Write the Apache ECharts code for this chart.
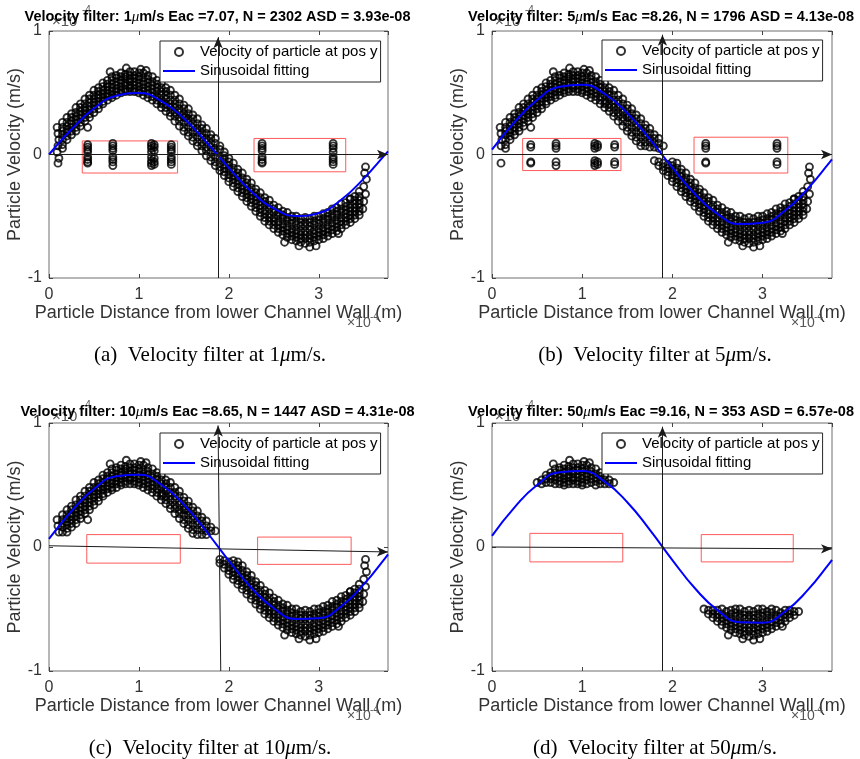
<!DOCTYPE html>
<html>
<head>
<meta charset="utf-8">
<script src="https://cdn.jsdelivr.net/npm/echarts@6/dist/echarts.min.js"></script>
<style>
  html, body { margin: 0; padding: 0; background: #fff; }
  #main { width: 860px; height: 759px; }
</style>
</head>
<body>
<div id="main"></div>
<script>
var bandX = [0.15,0.20,0.25,0.30,0.35,0.40,0.45,0.50,0.55,0.60,0.65,0.70,0.75,0.80,0.85,0.90,0.95,1.00,
  1.05,1.10,1.15,1.20,1.25,1.30,1.35,1.40,1.45,1.50,1.55,1.60,1.65,1.70,1.75,1.80,1.85,1.90,1.95,2.00,
  2.05,2.10,2.15,2.20,2.25,2.30,2.35,2.40,2.45,2.50,2.55,2.60,2.65,2.70,2.75,2.80,2.85,2.90,2.95,3.00,
  3.05,3.10,3.15,3.20,3.25,3.30,3.35,3.40,3.45];
var bandTop = [0.26,0.30,0.33,0.38,0.41,0.45,0.48,0.52,0.54,0.58,0.60,0.63,0.64,0.66,0.65,0.67,0.67,0.66,
  0.66,0.64,0.63,0.60,0.58,0.54,0.52,0.48,0.45,0.40,0.37,0.32,0.29,0.24,0.21,0.16,0.13,0.07,0.02,-0.03,
  -0.07,-0.12,-0.15,-0.20,-0.23,-0.28,-0.31,-0.35,-0.37,-0.41,-0.43,-0.46,-0.47,-0.50,-0.50,-0.52,-0.51,-0.52,-0.50,-0.50,
  -0.48,-0.47,-0.44,-0.43,-0.40,-0.39,-0.36,-0.34,-0.30];
var bandMid1 = [0.22,0.26,0.30,0.34,0.38,0.41,0.45,0.48,0.51,0.55,0.57,0.60,0.62,0.63,0.63,0.64,0.64,0.63,
  0.62,0.61,0.59,0.57,0.54,0.51,0.48,0.44,0.41,0.37,0.33,0.29,0.25,0.21,0.17,0.13,0.09,0.04,-0.01,-0.06,
  -0.11,-0.15,-0.19,-0.23,-0.27,-0.31,-0.35,-0.38,-0.41,-0.44,-0.47,-0.49,-0.51,-0.53,-0.54,-0.55,-0.55,-0.55,-0.54,-0.53,
  -0.52,-0.50,-0.48,-0.46,-0.44,-0.42,-0.40,-0.37,-0.34];
var bandUpper = [0.19,0.23,0.27,0.31,0.35,0.38,0.42,0.45,0.48,0.52,0.55,0.57,0.59,0.60,0.61,0.61,0.62,0.61,
  0.59,0.58,0.56,0.54,0.51,0.48,0.44,0.41,0.37,0.33,0.29,0.25,0.21,0.17,0.13,0.09,0.05,0.00,-0.04,-0.09,
  -0.14,-0.18,-0.22,-0.26,-0.30,-0.34,-0.38,-0.41,-0.44,-0.47,-0.50,-0.52,-0.54,-0.56,-0.57,-0.58,-0.58,-0.58,-0.57,-0.56,
  -0.55,-0.53,-0.51,-0.49,-0.47,-0.45,-0.43,-0.40,-0.37];
var bandMid2 = [0.16,0.20,0.25,0.28,0.32,0.36,0.39,0.42,0.46,0.49,0.52,0.54,0.56,0.58,0.58,0.59,0.59,0.58,
  0.57,0.55,0.53,0.51,0.48,0.45,0.41,0.38,0.34,0.30,0.26,0.22,0.18,0.14,0.10,0.06,0.02,-0.03,-0.08,-0.12,
  -0.17,-0.21,-0.25,-0.29,-0.33,-0.37,-0.41,-0.45,-0.48,-0.51,-0.54,-0.56,-0.58,-0.60,-0.61,-0.62,-0.62,-0.61,-0.61,-0.60,
  -0.59,-0.57,-0.55,-0.53,-0.51,-0.48,-0.46,-0.43,-0.40];
var bandLower = [0.12,0.18,0.22,0.25,0.29,0.33,0.36,0.40,0.43,0.46,0.49,0.51,0.53,0.55,0.56,0.56,0.56,0.55,
  0.54,0.52,0.50,0.47,0.44,0.41,0.38,0.34,0.30,0.26,0.22,0.18,0.14,0.10,0.06,0.02,-0.02,-0.07,-0.11,-0.16,
  -0.20,-0.24,-0.28,-0.32,-0.36,-0.40,-0.44,-0.48,-0.51,-0.54,-0.57,-0.59,-0.61,-0.63,-0.64,-0.65,-0.65,-0.65,-0.64,-0.63,
  -0.62,-0.60,-0.58,-0.56,-0.54,-0.51,-0.49,-0.46,-0.43];
var bandMid3 = [0.08,0.15,0.19,0.22,0.26,0.30,0.33,0.37,0.40,0.43,0.47,0.48,0.51,0.52,0.53,0.54,0.53,0.52,
  0.51,0.49,0.47,0.44,0.41,0.38,0.34,0.31,0.27,0.22,0.18,0.14,0.10,0.07,0.03,-0.02,-0.06,-0.10,-0.14,-0.19,
  -0.23,-0.27,-0.31,-0.35,-0.39,-0.43,-0.47,-0.51,-0.54,-0.57,-0.60,-0.62,-0.64,-0.66,-0.67,-0.68,-0.68,-0.68,-0.67,-0.66,
  -0.65,-0.63,-0.61,-0.59,-0.57,-0.54,-0.52,-0.49,-0.46];
var bandBottom = [0.05,0.12,0.16,0.19,0.23,0.27,0.30,0.34,0.37,0.41,0.44,0.46,0.48,0.50,0.51,0.51,0.51,0.50,
  0.48,0.46,0.44,0.41,0.38,0.35,0.31,0.27,0.23,0.19,0.15,0.11,0.07,0.03,-0.01,-0.05,-0.09,-0.13,-0.17,-0.22,
  -0.26,-0.30,-0.34,-0.38,-0.42,-0.46,-0.50,-0.54,-0.57,-0.60,-0.63,-0.65,-0.67,-0.69,-0.70,-0.71,-0.72,-0.71,-0.70,-0.69,
  -0.68,-0.66,-0.64,-0.62,-0.60,-0.57,-0.55,-0.52,-0.49];
// particles close to the walls
var wallPoints = [[0.09,0.22],[0.10,0.17],[0.11,0.12],[0.10,0.07],[0.09,0.02],[0.11,-0.03],[0.10,-0.07],
  [3.52,-0.10],[3.51,-0.15],[3.53,-0.20],[3.50,-0.26],[3.52,-0.32],[3.50,-0.38],[3.49,-0.44]];
// a few particles just outside the main band
var strayPoints = [[0.43,0.22],[0.68,0.67],[0.86,0.70],[1.02,0.69],[1.08,0.68],[1.26,0.42],[1.52,0.30],
  [2.62,-0.71],[2.78,-0.74],[2.90,-0.75],[2.97,-0.74],[3.22,-0.64],[3.35,-0.36]];
// slow particles inside the red boxes
var boxPoints = [
  [0.43,0.08],[0.43,0.06],[0.43,0.04],[0.43,0.02],[0.43,-0.02],[0.43,-0.04],[0.43,-0.06],[0.43,-0.07],
  [0.71,0.09],[0.71,0.07],[0.71,0.05],[0.71,0.03],[0.71,-0.02],[0.71,-0.04],[0.71,-0.06],[0.71,-0.09],
  [1.14,0.09],[1.14,0.07],[1.14,0.05],[1.14,0.02],[1.14,-0.02],[1.14,-0.05],[1.14,-0.07],[1.14,-0.09],
  [1.17,0.08],[1.17,0.06],[1.17,0.03],[1.17,-0.03],[1.17,-0.06],[1.17,-0.08],
  [1.36,0.08],[1.36,0.06],[1.36,0.04],[1.36,0.02],[1.36,-0.02],[1.36,-0.04],[1.36,-0.06],[1.36,-0.08],
  [2.37,0.09],[2.37,0.07],[2.37,0.05],[2.37,0.03],[2.37,-0.02],[2.37,-0.04],[2.37,-0.06],[2.37,-0.07],
  [3.16,0.09],[3.16,0.07],[3.16,0.05],[3.16,0.02],[3.16,-0.02],[3.16,-0.04],[3.16,-0.06],[3.16,-0.08]
];

// sinusoidal fits, one per panel
var fitX = [0,0.25,0.5,0.75,1.0,1.25,1.5,1.75,2.0,2.25,2.5,2.75,3.0,3.25,3.5,3.75,3.77];
var fitA = [0,0.204,0.372,0.476,0.497,0.432,0.292,0.100,-0.108,-0.299,-0.436,-0.498,-0.474,-0.366,-0.195,0.009,0.025];
var fitB = [0.040,0.262,0.441,0.548,0.565,0.490,0.335,0.124,-0.107,-0.320,-0.481,-0.563,-0.553,-0.453,-0.277,-0.057,-0.039];
var fitC = [0.065,0.289,0.468,0.571,0.583,0.502,0.342,0.125,-0.111,-0.329,-0.494,-0.581,-0.575,-0.478,-0.302,-0.079,-0.060];
var fitD = [0.090,0.320,0.500,0.603,0.612,0.527,0.361,0.138,-0.105,-0.333,-0.509,-0.606,-0.610,-0.520,-0.348,-0.124,-0.104];

// panel metadata
var panelTags = ['a', 'b', 'c', 'd'];
var filterUm = ['1', '5', '10', '50'];
var filterLevels = [0.01, 0.05, 0.10, 0.50];
var eacValues = ['7.07', '8.26', '8.65', '9.16'];
var nCounts = ['2302', '1796', '1447', '353'];
var asdValues = ['3.93e-08', '4.13e-08', '4.31e-08', '6.57e-08'];
var xTicks = ['0', '1', '2', '3'];
var yTicks = ['-1', '0', '1'];

var dotName = 'Velocity of particle at pos y';
var fitName = 'Sinusoidal fitting';
var xName = 'Particle Distance from lower Channel Wall (m)';
var yName = 'Particle Velocity (m/s)';

var sans = 'Liberation Sans, Arial, sans-serif';
var serif = 'Liberation Serif, Times New Roman, serif';
var xMax = 3.77;

var grids = [
  {left: 49, top: 31, width: 339, height: 247},
  {left: 492, top: 31, width: 340, height: 247},
  {left: 49, top: 423, width: 339, height: 248},
  {left: 492, top: 423, width: 340, height: 248}
];
var legendPos = [[160, 41], [602, 40], [160, 433], [602, 433]];
// red boxes [x0, y0, x1, y1] and arrow axes per panel
var boxes = [
  [[0.37, 0.11, 1.43, -0.15], [2.28, 0.13, 3.30, -0.14]],
  [[0.34, 0.13, 1.43, -0.13], [2.24, 0.14, 3.28, -0.15]],
  [[0.42, 0.10, 1.46, -0.13], [2.32, 0.08, 3.36, -0.14]],
  [[0.42, 0.11, 1.45, -0.12], [2.32, 0.10, 3.34, -0.12]]
];
var arrows = [
  {h: [0, 0], v: [1.88, 1.88, 0.95]},
  {h: [0, 0], v: [1.89, 1.89, 0.97]},
  {h: [0.01, -0.04], v: [1.91, 1.88, 0.98]},
  {h: [0, -0.015], v: [1.89, 1.89, 0.97]}
];

var measured = [];
bandX.forEach(function (x, i) {
  [bandTop, bandMid1, bandUpper, bandMid2, bandLower, bandMid3, bandBottom].forEach(function (row) {
    measured.push([x, row[i]]);
  });
});
measured = measured.concat(wallPoints, strayPoints, boxPoints);

function aboveFilter(level) {
  return measured.filter(function (p) { return Math.abs(p[1]) >= level - 1e-9; });
}
var fits = [fitA, fitB, fitC, fitD];

var xAxes = [], yAxes = [], series = [], legends = [], graphics = [];
var tickColor = '#444';

grids.forEach(function (g, i) {
  g.show = true;
  g.borderColor = '#6e6e6e';
  g.borderWidth = 1;
  g.backgroundColor = 'transparent';

  xAxes.push({
    gridIndex: i, type: 'value', min: 0, max: xMax, interval: 1,
    axisLine: {show: false, onZero: false},
    axisTick: {inside: true, length: 4, lineStyle: {color: tickColor}},
    splitLine: {show: false},
    axisLabel: {
      color: '#333', fontSize: 16, fontFamily: sans, margin: 9, showMaxLabel: false,
      formatter: function (v) { return xTicks.indexOf(String(v)) >= 0 ? String(v) : ''; }
    },
    name: xName, nameLocation: 'middle', nameGap: 14,
    nameTextStyle: {color: '#333', fontSize: 18, fontFamily: sans}
  });
  yAxes.push({
    gridIndex: i, type: 'value', min: -1, max: 1, interval: 1,
    axisLine: {show: false, onZero: false},
    axisTick: {inside: true, length: 4, lineStyle: {color: tickColor}},
    splitLine: {show: false},
    axisLabel: {
      color: '#333', fontSize: 16, fontFamily: sans, margin: 7,
      formatter: function (v) { return yTicks.indexOf(String(v)) >= 0 ? String(v) : ''; }
    },
    name: yName, nameLocation: 'middle', nameGap: 22,
    nameTextStyle: {color: '#333', fontSize: 18, fontFamily: sans}
  });
});
// mirrored ticks on the top and right edges of each box
grids.forEach(function (g, i) {
  xAxes.push({
    gridIndex: i, type: 'value', position: 'top', min: 0, max: xMax, interval: 1,
    axisLine: {show: false, onZero: false}, axisLabel: {show: false}, splitLine: {show: false},
    axisTick: {inside: true, length: 4, lineStyle: {color: tickColor}}
  });
  yAxes.push({
    gridIndex: i, type: 'value', position: 'right', min: -1, max: 1, interval: 1,
    axisLine: {show: false, onZero: false}, axisLabel: {show: false}, splitLine: {show: false},
    axisTick: {inside: true, length: 4, lineStyle: {color: tickColor}}
  });
});

grids.forEach(function (g, i) {
  series.push({
    type: 'scatter', name: dotName, xAxisIndex: i, yAxisIndex: i,
    data: aboveFilter(filterLevels[i]),
    symbol: 'circle', symbolSize: 7, silent: true, z: 2,
    itemStyle: {color: 'transparent', borderColor: '#000', borderWidth: 1.9}
  });
  series.push({
    type: 'line', name: fitName, xAxisIndex: i, yAxisIndex: i,
    data: fitX.map(function (x, k) { return [x, fits[i][k]]; }),
    smooth: true, symbol: 'none', silent: true, z: 3,
    lineStyle: {color: '#0000ff', width: 2}
  });
  var a = arrows[i];
  series.push({
    type: 'line', name: 'axes' + i, xAxisIndex: i, yAxisIndex: i, data: [],
    silent: true, z: 6,
    markArea: {
      silent: true,
      itemStyle: {color: 'transparent', borderColor: '#ff5a5a', borderWidth: 1},
      label: {show: false},
      data: boxes[i].map(function (b) {
        return [{coord: [b[0], b[1]]}, {coord: [b[2], b[3]]}];
      })
    },
    markLine: {
      silent: true, animation: false,
      symbol: ['none', 'arrow'], symbolSize: [7, 11],
      label: {show: false},
      lineStyle: {color: '#1a1a1a', width: 1, type: 'solid'},
      emphasis: {disabled: true},
      data: [
        [{coord: [0, a.h[0]]}, {coord: [xMax, a.h[1]]}],
        [{coord: [a.v[0], -1]}, {coord: [a.v[1], a.v[2]]}]
      ]
    }
  });

  legends.push({
    left: legendPos[i][0], top: legendPos[i][1], orient: 'vertical',
    backgroundColor: '#fff', borderColor: '#262626', borderWidth: 1, borderRadius: 0,
    padding: [2, 3, 2, 3], itemGap: 1, itemWidth: 32, itemHeight: 8,
    selectedMode: false, z: 4,
    textStyle: {fontSize: 15, color: '#000', fontFamily: sans, lineHeight: 18},
    data: [
      {name: dotName, icon: 'circle', itemStyle: {color: 'transparent', borderColor: '#000', borderWidth: 2}},
      {name: fitName, icon: 'path://M0,0L32,0L32,2L0,2Z', itemStyle: {color: '#0000ff', borderWidth: 0}}
    ]
  });

  var cx = g.left + g.width / 2;
  var bottom = g.top + g.height;
  var titleY = i < 2 ? 17 : 412;
  // "x10^-4" exponent labels (drawn before the title, which overlaps one of them)
  graphics.push({type: 'text', x: g.left + 3, y: titleY + 5, z: 10,
    style: {text: '×10', fill: '#555', font: '15px ' + sans, verticalAlign: 'middle'}});
  graphics.push({type: 'text', x: g.left + 33, y: titleY - 7, z: 10,
    style: {text: '-4', fill: '#555', font: '10px ' + sans, verticalAlign: 'middle'}});
  graphics.push({type: 'text', x: g.left + g.width - 41, y: bottom + 45, z: 10,
    style: {text: '×10', fill: '#555', font: '14px ' + sans, verticalAlign: 'middle'}});
  graphics.push({type: 'text', x: g.left + g.width - 18, y: bottom + 39, z: 10,
    style: {text: '-4', fill: '#555', font: '10px ' + sans, verticalAlign: 'middle'}});
  graphics.push({type: 'text', x: cx - 1, y: titleY, z: 11,
    style: {
      text: '{b|Velocity filter: ' + filterUm[i] + '}{m|μ}{b|m/s Eac =' + eacValues[i] +
        ', N = ' + nCounts[i] + ' ASD = ' + asdValues[i] + '}',
      align: 'center', verticalAlign: 'middle',
      rich: {
        b: {fontFamily: sans, fontWeight: 'bold', fontSize: 14.5, fill: '#000'},
        m: {fontFamily: serif, fontStyle: 'italic', fontSize: 15, fill: '#000'}
      }
    }});
  graphics.push({type: 'text', x: i % 2 === 0 ? 210 : 655, y: bottom + 77, z: 10,
    style: {
      text: '{t|(' + panelTags[i] + ')  Velocity filter at ' + filterUm[i] + '}{m|μ}{t|m/s.}',
      align: 'center', verticalAlign: 'middle',
      rich: {
        t: {fontFamily: serif, fontSize: 21, fill: '#000'},
        m: {fontFamily: serif, fontStyle: 'italic', fontSize: 21, fill: '#000'}
      }
    }});
});

var chart = echarts.init(document.getElementById('main'));
chart.setOption({
  animation: false,
  backgroundColor: '#fff',
  grid: grids,
  xAxis: xAxes,
  yAxis: yAxes,
  legend: legends,
  series: series,
  graphic: graphics
});
</script>
</body>
</html>
